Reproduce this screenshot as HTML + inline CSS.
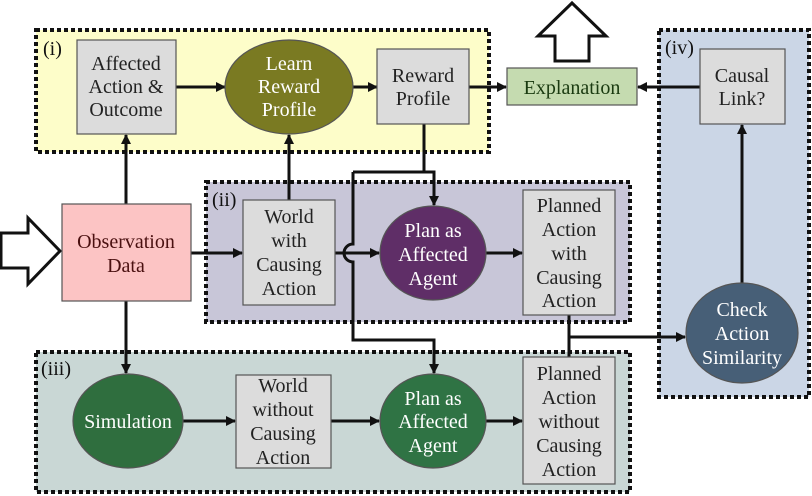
<!DOCTYPE html>
<html><head><meta charset="utf-8"><style>html,body{margin:0;padding:0;background:#fff}svg{display:block}text{font-family:"Liberation Serif",serif;font-size:20px}</style></head>
<body>
<svg width="812" height="496" viewBox="0 0 812 496" xmlns="http://www.w3.org/2000/svg" text-anchor="middle">
<defs>
<marker id="a" markerWidth="10" markerHeight="10" refX="9" refY="5" orient="auto" markerUnits="userSpaceOnUse"><path d="M0,0 L10,5 L0,10 z" fill="#111"/></marker>
</defs>
<g stroke="#111" stroke-width="4" stroke-dasharray="4,3">
<rect x="36" y="30" width="453" height="122" fill="#fdfdc9"/>
<rect x="206" y="182" width="424" height="140" fill="#c8c6d8"/>
<rect x="36" y="352" width="594" height="140" fill="#c9d7d5"/>
<rect x="659" y="30" width="150" height="367" fill="#cbd6e6"/>
</g>
<g fill="#111" text-anchor="start">
<text x="43" y="55">(i)</text>
<text x="212" y="206">(ii)</text>
<text x="41" y="375">(iii)</text>
<text x="665" y="54">(iv)</text>
</g>
<g stroke="#111" stroke-width="3" fill="none">
<line x1="176" y1="87" x2="225" y2="87" marker-end="url(#a)"/>
<line x1="353" y1="87" x2="377" y2="87" marker-end="url(#a)"/>
<line x1="469" y1="87" x2="506" y2="87" marker-end="url(#a)"/>
<line x1="700" y1="87" x2="638" y2="87" marker-end="url(#a)"/>
<line x1="126" y1="204" x2="126" y2="135" marker-end="url(#a)"/>
<line x1="289" y1="200" x2="289" y2="135" marker-end="url(#a)"/>
<polyline points="424,124 424,172"/>
<polyline points="353,172 434,172 434,205" marker-end="url(#a)"/>
<path d="M353,172 L353,244 A9,9 0 0 0 353,262 L353,340 L434,340 L434,373" marker-end="url(#a)"/>
<line x1="191" y1="253" x2="242" y2="253" marker-end="url(#a)"/>
<line x1="335" y1="253" x2="379" y2="253" marker-end="url(#a)"/>
<line x1="486" y1="253" x2="522" y2="253" marker-end="url(#a)"/>
<line x1="126" y1="301" x2="126" y2="373" marker-end="url(#a)"/>
<line x1="183" y1="421" x2="235" y2="421" marker-end="url(#a)"/>
<line x1="331" y1="421" x2="379" y2="421" marker-end="url(#a)"/>
<line x1="486" y1="421" x2="522" y2="421" marker-end="url(#a)"/>
<line x1="569" y1="315" x2="569" y2="357"/>
<line x1="569" y1="337" x2="685" y2="337" marker-end="url(#a)"/>
<line x1="742" y1="283" x2="742" y2="125" marker-end="url(#a)"/>
</g>
<polygon points="1,233 28,233 28,218 60,251 28,284 28,268 1,268" fill="#fff" stroke="#111" stroke-width="3"/>
<polygon points="572,3 606,36 589,36 589,61 555,61 555,36 538,36" fill="#fff" stroke="#111" stroke-width="3"/>
<g stroke="#555" stroke-width="1.2">
<rect x="77" y="40" width="99" height="94" fill="#dcdcdc"/>
<rect x="377" y="49" width="92" height="75" fill="#dcdcdc"/>
<rect x="507" y="68" width="130" height="37" fill="#c5dbb0"/>
<rect x="700" y="49" width="85" height="75" fill="#dcdcdc"/>
<rect x="62" y="204" width="129" height="97" fill="#fcc4c4"/>
<rect x="243" y="200" width="92" height="105" fill="#dcdcdc"/>
<rect x="523" y="190" width="92" height="125" fill="#dcdcdc"/>
<rect x="236" y="375" width="95" height="93" fill="#dcdcdc"/>
<rect x="523" y="357" width="92" height="127" fill="#dcdcdc"/>
<ellipse cx="289" cy="87" rx="64" ry="47" fill="#7a7a22"/>
<ellipse cx="433" cy="253" rx="53" ry="47" fill="#5f2e67"/>
<ellipse cx="742" cy="333" rx="56" ry="50" fill="#475f77"/>
<ellipse cx="128" cy="421" rx="55" ry="47" fill="#2f6e3e"/>
<ellipse cx="433" cy="421" rx="53" ry="47" fill="#2f7344"/>
</g>
<g fill="#222">
<text x="126" y="70">Affected</text><text x="126" y="93">Action &amp;</text><text x="126" y="116">Outcome</text>
<text x="423" y="82">Reward</text><text x="423" y="105">Profile</text>
<text x="572" y="94" fill="#1a3a10">Explanation</text>
<text x="742" y="82">Causal</text><text x="742" y="105">Link?</text>
<text x="126" y="248" fill="#4a1010">Observation</text><text x="126" y="272" fill="#4a1010">Data</text>
<text x="289" y="223">World</text><text x="289" y="247">with</text><text x="289" y="271">Causing</text><text x="289" y="295">Action</text>
<text x="569" y="212">Planned</text><text x="569" y="236">Action</text><text x="569" y="260">with</text><text x="569" y="284">Causing</text><text x="569" y="307">Action</text>
<text x="283" y="392">World</text><text x="283" y="416">without</text><text x="283" y="440">Causing</text><text x="283" y="464">Action</text>
<text x="569" y="380">Planned</text><text x="569" y="404">Action</text><text x="569" y="428">without</text><text x="569" y="452">Causing</text><text x="569" y="476">Action</text>
</g>
<g fill="#fff">
<text x="289" y="70">Learn</text><text x="289" y="93">Reward</text><text x="289" y="116">Profile</text>
<text x="433" y="237">Plan as</text><text x="433" y="261">Affected</text><text x="433" y="285">Agent</text>
<text x="742" y="316">Check</text><text x="742" y="340">Action</text><text x="742" y="364">Similarity</text>
<text x="128" y="428">Simulation</text>
<text x="433" y="405">Plan as</text><text x="433" y="428">Affected</text><text x="433" y="452">Agent</text>
</g>
</svg>
</body></html>
